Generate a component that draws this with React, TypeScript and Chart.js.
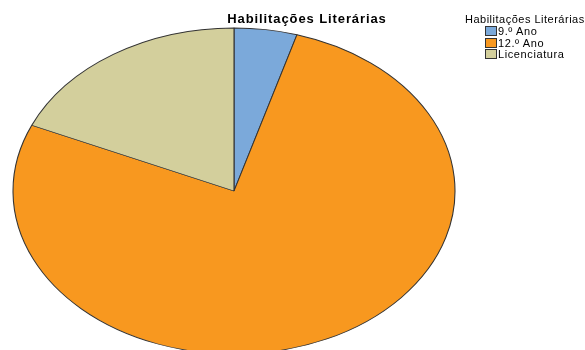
import React, { useEffect, useRef } from "react";
import { Chart, registerables } from "chart.js";

Chart.register(...registerables);

const categories = ["9.º Ano", "12.º Ano", "Licenciatura"];
const counts = [4, 67, 16];
const colors = ["#7BA9DA", "#F8981F", "#D3CF9C"];
const chartTitle = "Habilitações Literárias";
const legendTitle = "Habilitações Literárias";

// ellipse geometry (layout)
const ELLIPSE_RX = 221;
const ELLIPSE_RY = 163;
const ELLIPSE_CY = 191;

const ellipsePlugin = {
  id: "ellipse",
  beforeDatasetsDraw(chart: any) {
    const meta = chart.getDatasetMeta(0);
    const arc = meta.data[0];
    if (!arc) return;
    const { x, y, outerRadius } = arc.getProps(["x", "y", "outerRadius"], true);
    const ctx = chart.ctx;
    ctx.save();
    ctx.translate(x, ELLIPSE_CY);
    ctx.scale(ELLIPSE_RX / outerRadius, ELLIPSE_RY / outerRadius);
    ctx.translate(-x, -y);
  },
  afterDatasetsDraw(chart: any) {
    chart.ctx.restore();
  },
};

export default function App() {
  const ref = useRef<HTMLCanvasElement>(null);
  useEffect(() => {
    if (!ref.current) return;
    const chart = new Chart(ref.current, {
      type: "pie",
      data: {
        labels: categories,
        datasets: [
          {
            data: counts,
            backgroundColor: colors,
            borderColor: "#333333",
            borderWidth: 0.85,
            clip: false,
          } as any,
        ],
      },
      options: {
        responsive: false,
        animation: false,
        layout: { padding: { left: 13, right: 130, top: 0, bottom: 0 } },
        plugins: {
          legend: { display: false },
          title: { display: false },
          tooltip: { enabled: false },
        },
      },
      plugins: [ellipsePlugin],
    });
    return () => chart.destroy();
  }, []);

  const font = "Arial, 'Liberation Sans', sans-serif";
  return (
    <div style={{ position: "absolute", left: 0, top: 0, width: 585, height: 350, overflow: "hidden", background: "#fff" }}>
      <canvas ref={ref} width={585} height={350} style={{ position: "absolute", left: 0, top: 0 }} />
      <div
        style={{
          position: "absolute",
          left: 207,
          width: 200,
          top: 11,
          textAlign: "center",
          fontFamily: font,
          fontWeight: "bold",
          fontSize: 13,
          letterSpacing: "0.9px",
          lineHeight: "16px",
          color: "#000",
        }}
      >
        {chartTitle}
      </div>
      <div style={{ position: "absolute", left: 465, top: 13, fontFamily: font, fontSize: 11, letterSpacing: "0.5px", lineHeight: "12px", color: "#000", whiteSpace: "nowrap" }}>
        {legendTitle}
      </div>
      {categories.map((c, i) => (
        <div
          key={c}
          style={{
            position: "absolute",
            left: 485,
            top: 25 + i * 11.5,
            height: 12,
            display: "flex",
            alignItems: "center",
            fontFamily: font,
            fontSize: 11,
            letterSpacing: "0.6px",
            lineHeight: "12px",
            color: "#000",
            whiteSpace: "nowrap",
          }}
        >
          <span
            style={{
              display: "inline-block",
              width: 10,
              height: 8,
              background: colors[i],
              border: "1px solid #333",
              marginRight: 1,
            }}
          />
          {c}
        </div>
      ))}
    </div>
  );
}
